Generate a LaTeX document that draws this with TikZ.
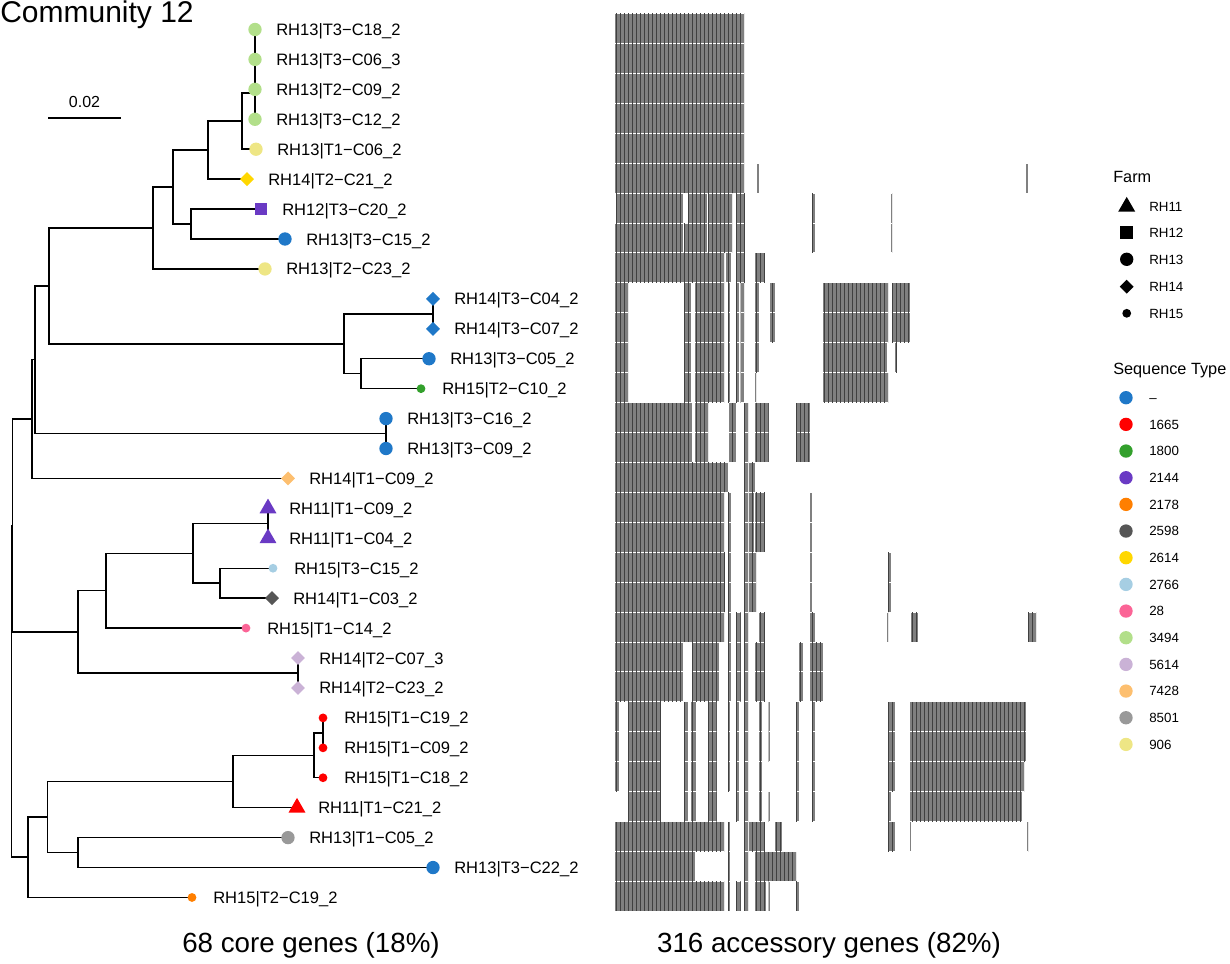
\documentclass[tikz,border=0pt]{standalone}
\usepackage{fontspec}
\setmainfont{Liberation Sans}
\usetikzlibrary{shapes.geometric, patterns.meta, calc}
\definecolor{stna}{HTML}{1F78C8}
\definecolor{st1665}{HTML}{FF0000}
\definecolor{st1800}{HTML}{33A02C}
\definecolor{st2144}{HTML}{6A3AC4}
\definecolor{st2178}{HTML}{FF7F00}
\definecolor{st2598}{HTML}{565656}
\definecolor{st2614}{HTML}{FFD700}
\definecolor{st2766}{HTML}{A6CEE3}
\definecolor{st28}{HTML}{FB6496}
\definecolor{st3494}{HTML}{B2DF8A}
\definecolor{st5614}{HTML}{CAB2D6}
\definecolor{st7428}{HTML}{FDBF6F}
\definecolor{st8501}{HTML}{999999}
\definecolor{st906}{HTML}{EEE685}
\tikzset{
    x=0.75pt, y=-0.75pt,
    branch/.style={line width=1.1pt, black},
    rh11/.style={regular polygon, regular polygon sides=3, minimum size=14.7pt, inner sep=0pt},
    rh12/.style={rectangle, minimum size=9.6pt, inner sep=0pt},
    rh13/.style={circle, minimum size=10pt, inner sep=0pt},
    rh14/.style={diamond, minimum width=10.6pt, minimum height=10.6pt, inner sep=0pt},
    rh15/.style={circle, minimum size=6.6pt, inner sep=0pt},
    tiplab/.style={font=\fontsize{12.4}{14}\selectfont, inner sep=0pt, anchor=base west},
    legtitle/.style={font=\fontsize{12.2}{14}\selectfont, inner sep=0pt, anchor=base west},
    leglab/.style={font=\fontsize{10}{12}\selectfont, inner sep=0pt, anchor=base west},
    caption/.style={font=\fontsize{20.8}{24}\selectfont, inner sep=0pt},
    genes/.style={fill=gray, postaction={pattern={Lines[angle=90, distance=3pt, line width=0.55pt]}, pattern color=black!75}}
}
\begin{document}
\begin{tikzpicture}
\useasboundingbox (0,0) rectangle (1230,963);

\node[inner sep=0pt, anchor=base west, font=\fontsize{22.5}{26}\selectfont] (title) at (0,22.7) {Community 12};

\coordinate (bar1) at (48,118);
\coordinate (bar2) at (121,118);
\draw[branch] (bar1) -- (bar2);
\node[font=\fontsize{12}{14}\selectfont, inner sep=0pt] (barlab) at (84.5,102) {0.02};

\foreach \i/\x/\lab in {
    1/255/{RH13|T3−C18\_2}, 2/255/{RH13|T3−C06\_3}, 3/255/{RH13|T2−C09\_2},
    4/255/{RH13|T3−C12\_2}, 5/256/{RH13|T1−C06\_2}, 6/247/{RH14|T2−C21\_2},
    7/261/{RH12|T3−C20\_2}, 8/285/{RH13|T3−C15\_2}, 9/265/{RH13|T2−C23\_2},
    10/433/{RH14|T3−C04\_2}, 11/433/{RH14|T3−C07\_2}, 12/429/{RH13|T3−C05\_2},
    13/421/{RH15|T2−C10\_2}, 14/386/{RH13|T3−C16\_2}, 15/386/{RH13|T3−C09\_2},
    16/288/{RH14|T1−C09\_2}, 17/268/{RH11|T1−C09\_2}, 18/268/{RH11|T1−C04\_2},
    19/273/{RH15|T3−C15\_2}, 20/272/{RH14|T1−C03\_2}, 21/246/{RH15|T1−C14\_2},
    22/298/{RH14|T2−C07\_3}, 23/298/{RH14|T2−C23\_2}, 24/323/{RH15|T1−C19\_2},
    25/323/{RH15|T1−C09\_2}, 26/323/{RH15|T1−C18\_2}, 27/297/{RH11|T1−C21\_2},
    28/288/{RH13|T1−C05\_2}, 29/433/{RH13|T3−C22\_2}, 30/192/{RH15|T2−C19\_2}} {
  \coordinate (t\i) at (\x,{29.5+(\i-1)*29.93});
  \node[tiplab] (l\i) at ($(t\i)+(21,6)$) {\lab};
}

\coordinate (g12) at (255,44.5);
\coordinate (g123) at (255,66.9);
\coordinate (g1234) at (255,93.1);
\coordinate (nA) at (242,121.2);
\coordinate (nB) at (208,150.2);
\coordinate (nC) at (191,224.0);
\coordinate (nD) at (173,187.1);
\coordinate (nE) at (153,228.0);
\coordinate (nF) at (433,313.8);
\coordinate (nG) at (361,373.7);
\coordinate (nH) at (344,343.8);
\coordinate (nI) at (49,285.9);
\coordinate (nJ) at (386,433.6);
\coordinate (nK) at (35,359.7);
\coordinate (nL) at (32,419.1);
\coordinate (nM) at (268,523.3);
\coordinate (nN) at (220,583.2);
\coordinate (nO) at (193,553.3);
\coordinate (nP) at (106,590.7);
\coordinate (nQ) at (298,673.0);
\coordinate (nR) at (78,631.8);
\coordinate (nS) at (12.5,525.5);
\coordinate (nT) at (323,732.9);
\coordinate (nU) at (314,755.3);
\coordinate (nV) at (233,781.5);
\coordinate (nW) at (78,852.6);
\coordinate (nX) at (47.5,817.0);
\coordinate (nY) at (28,857.2);
\coordinate (root) at (11.5,691.4);

\foreach \p/\c in {g12/t1, g12/t2, g123/g12, g123/t3, g1234/g123, g1234/t4,
    nA/g1234, nA/t5, nB/nA, nB/t6, nC/t7, nC/t8, nD/nB, nD/nC, nE/nD, nE/t9,
    nF/t10, nF/t11, nG/t12, nG/t13, nH/nF, nH/nG, nI/nE, nI/nH, nJ/t14, nJ/t15,
    nK/nI, nK/nJ, nL/nK, nL/t16, nM/t17, nM/t18, nN/t19, nN/t20, nO/nM, nO/nN,
    nP/nO, nP/t21, nQ/t22, nQ/t23, nR/nP, nR/nQ, nS/nL, nS/nR, nT/t24, nT/t25,
    nU/nT, nU/t26, nV/nU, nV/t27, nW/t28, nW/t29, nX/nV, nX/nW, nY/nX, nY/t30,
    root/nS, root/nY}
  \draw[branch] (\p) |- (\c);

\foreach \i/\shp/\col in {1/rh13/st3494, 2/rh13/st3494, 3/rh13/st3494, 4/rh13/st3494,
    5/rh13/st906, 6/rh14/st2614, 7/rh12/st2144, 8/rh13/stna, 9/rh13/st906,
    10/rh14/stna, 11/rh14/stna, 12/rh13/stna, 13/rh15/st1800, 14/rh13/stna,
    15/rh13/stna, 16/rh14/st7428, 17/rh11/st2144, 18/rh11/st2144, 19/rh15/st2766,
    20/rh14/st2598, 21/rh15/st28, 22/rh14/st5614, 23/rh14/st5614, 24/rh15/st1665,
    25/rh15/st1665, 26/rh15/st1665, 27/rh11/st1665, 28/rh13/st8501, 29/rh13/stna,
    30/rh15/st2178}
  \node[\shp, fill=\col] (s\i) at (t\i) {};

\foreach \r/\segs in {
    1/{615/744}, 2/{615/744}, 3/{615/744}, 4/{615/744}, 5/{615/744},
    6/{615/744, 757/759, 1026/1027.5},
    7/{616/683, 688/707, 708/732, 736/745, 812/815, 891/892},
    8/{615/683, 684/707, 708/732, 736/745, 812/815, 891/892},
    9/{615/724, 725.5/731, 736/745, 755/765},
    10/{615/628, 684/691, 695/724, 728/730, 736/738.5, 740.5/744, 755/759, 769.5/774.5, 823/888, 892/910},
    11/{615/628, 684/691, 695/724, 728/730, 736/738.5, 740.5/744, 755/759, 769.5/774.5, 823/888, 892/910},
    12/{615/628, 684/691, 695/724, 728/730, 736/738.5, 740.5/743.5, 755/759, 823/887, 895/897},
    13/{615/628, 684/691, 695/724, 728/730, 736/738.5, 740.5/743.5, 755/756, 823/888},
    14/{615/691.5, 695/708, 729/735.5, 744/748, 755/768.5, 796/809.5},
    15/{615/691.5, 695/708, 729/735.5, 744/748, 755/768.5, 796/809.5},
    16/{615/727.5, 744/748, 749/755},
    17/{615/724, 728/730.5, 744/748, 749/754, 755/765, 809.5/811.5},
    18/{615/724, 728/730.5, 744/748, 749/754, 755/765, 809.5/811.5},
    19/{615/725, 728/730.5, 744/748, 749/756, 809.5/811.5, 888/890.5},
    20/{615/725, 728/730.5, 744/748, 749/756, 809.5/811.5, 888/890.5},
    21/{615/724, 728/730.5, 736/740.5, 744/748, 759/765, 809.5/815, 887/888, 911/917.5, 1028/1036},
    22/{615/683, 691.5/719, 728/730.5, 736/740.5, 744/748, 755/765, 799/802.5, 809.5/822.5},
    23/{615/683, 691.5/719, 728/730.5, 736/740.5, 744/748, 755/765, 799/802.5, 809.5/822.5},
    24/{615/619, 628/661, 684/687.5, 690.5/695.5, 707.5/716.5, 728/730, 736/738.5, 744/748, 759/761.5, 768.5/770, 796/799, 811.5/815, 888/895, 910/1026},
    25/{615/619, 628/661, 684/687.5, 690.5/695.5, 707.5/716.5, 728/730, 736/738.5, 744/748, 759/761.5, 768.5/770, 796/799, 811.5/815, 888/895, 910/1026},
    26/{615/619, 628/661, 684/687.5, 690.5/695.5, 707.5/716.5, 728/730, 736/738.5, 744/748, 759/761.5, 796/799, 811.5/815, 888/895, 910/1024},
    27/{628/661, 684/687.5, 690.5/695.5, 707.5/716.5, 736/738.5, 744/748, 759/761.5, 768.5/770, 796/799, 811.5/815, 888/890.5, 910/1021.5},
    28/{615/724, 728/730, 744/748, 749/765, 775/781.5, 888/895, 910/911, 1027/1028},
    29/{615/695, 728/730, 744/748, 755/796},
    30/{615/724, 728/730, 736/740.5, 744/748, 755/765.5, 768.5/770, 796/799}} {
  \foreach \a/\b in \segs
    \fill[genes] (\a,{14+(\r-1)*29.93}) rectangle (\b,{13+\r*29.93});
}

\node[caption] (core) at (311,945) {68 core genes (18\%)};
\node[caption] (acc) at (829,945) {316 accessory genes (82\%)};

\node[legtitle] (farm) at (1113,182.3) {Farm};
\foreach \i/\y in {11/206.7, 12/232.7, 13/259.3, 14/286.7, 15/313.3} {
  \node[rh\i, fill=black] (fk\i) at (1126.7,\y) {};
  \node[leglab] (fl\i) at (1149,{\y+4.8}) {RH\i};
}

\node[legtitle] (seqtype) at (1113,374.3) {Sequence Type};
\foreach \i/\col/\txt in {0/stna/\textendash, 1/st1665/1665, 2/st1800/1800, 3/st2144/2144,
    4/st2178/2178, 5/st2598/2598, 6/st2614/2614, 7/st2766/2766, 8/st28/28,
    9/st3494/3494, 10/st5614/5614, 11/st7428/7428, 12/st8501/8501, 13/st906/906} {
  \node[rh13, fill=\col] (sk\i) at (1126,{397.7+\i*26.67}) {};
  \node[leglab] (sl\i) at (1149,{402.5+\i*26.67}) {\txt};
}
\end{tikzpicture}
\end{document}
